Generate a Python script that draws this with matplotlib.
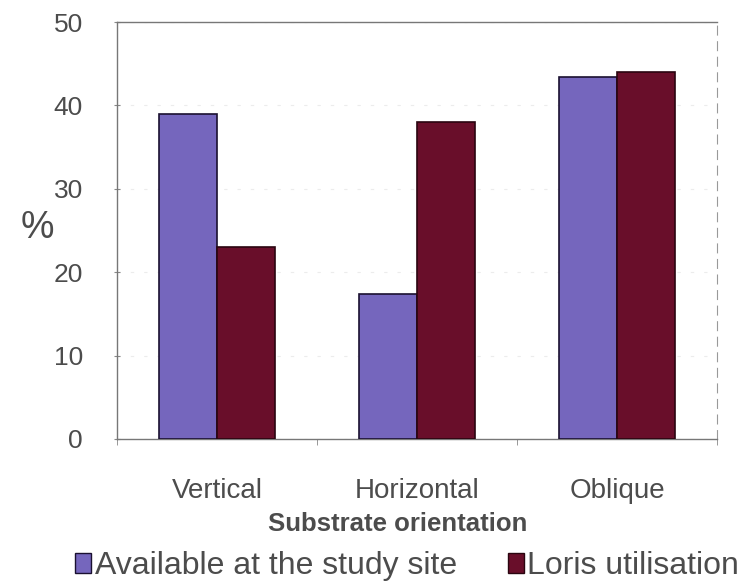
import numpy as np
import matplotlib.pyplot as plt
from matplotlib.patches import Patch

plt.rcParams['font.family'] = ['Liberation Sans', 'DejaVu Sans']

# Substrate orientation data (%)
categories = ["Vertical", "Horizontal", "Oblique"]
available = [39.0, 17.4, 43.4]
loris_use = [23.0, 38.0, 44.0]

purple = '#7566bd'
maroon = '#690e2a'
text_col = '#4c4c4c'

fig = plt.figure(figsize=(7.54, 5.88), dpi=100)
ax = fig.add_axes([117 / 754, 1 - 439 / 588, 600 / 754, 417 / 588])

x = np.arange(len(categories))
w = 0.29
ax.bar(x - w / 2, available, w, color=purple, edgecolor='#1a1030', linewidth=1.2, zorder=3)
ax.bar(x + w / 2, loris_use, w, color=maroon, edgecolor='#2a0510', linewidth=1.2, zorder=3)

ax.set_xlim(-0.5, 2.5)
ax.set_ylim(0, 50)
ax.set_yticks(range(0, 51, 10))
ax.yaxis.grid(True, color='#ececec', linestyle=(0, (3, 9)), linewidth=0.8)
ax.tick_params(axis='y', labelsize=19, labelcolor=text_col, color='#888888',
               length=5, direction='inout', pad=22)
ax.set_xticks([-0.5, 0.5, 1.5, 2.5], minor=True)
ax.set_xticks(x)
ax.set_xticklabels(categories)
ax.tick_params(axis='x', which='major', length=0, labelsize=20,
               labelcolor=text_col, pad=28)
ax.tick_params(axis='x', which='minor', length=4, color='#888888')

for s in ['left', 'bottom', 'top']:
    ax.spines[s].set_color('#777777')
    ax.spines[s].set_linewidth(1.0)
ax.spines['right'].set_color('#999999')
ax.spines['right'].set_linestyle((0, (8, 6)))

ax.set_xlabel("Substrate orientation", fontsize=18.5, fontweight='bold',
              color=text_col, labelpad=0)
ax.xaxis.set_label_coords(0.468, -0.175)
fig.text(37 / 754, 1 - 228 / 588, "%", fontsize=27, color=text_col,
         ha='center', va='center')

handles = [Patch(facecolor=purple, edgecolor='#1a1030'),
           Patch(facecolor=maroon, edgecolor='#2a0510')]
fig.legend(handles, ["Available at the study site", "Loris utilisation"],
           loc='center', bbox_to_anchor=(0.54, 1 - 566 / 588), ncol=2,
           frameon=False, fontsize=23, handlelength=0.5, handleheight=0.6,
           handletextpad=0.1, columnspacing=1.6, labelcolor=text_col)

fig.savefig("out.png", dpi=100)
